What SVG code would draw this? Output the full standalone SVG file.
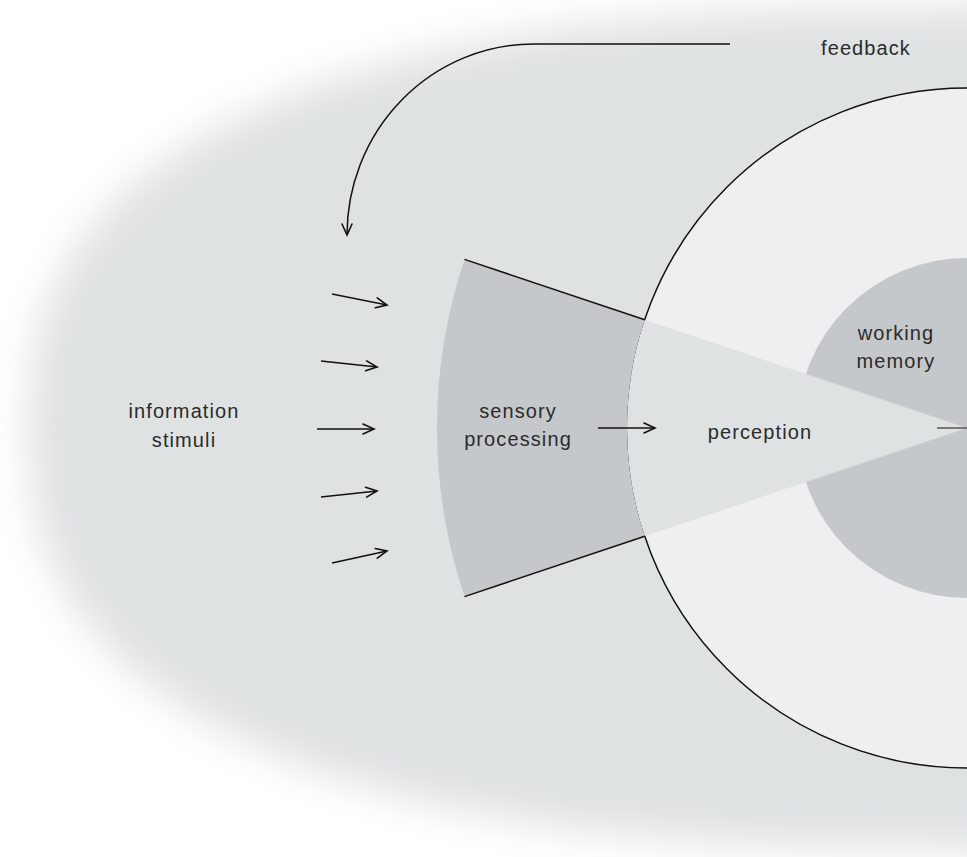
<svg xmlns="http://www.w3.org/2000/svg" width="967" height="857" viewBox="0 0 967 857">
  <defs>
    <filter id="soft" filterUnits="userSpaceOnUse" x="-200" y="-200" width="1400" height="1300">
      <feGaussianBlur stdDeviation="20"/>
    </filter>
    <marker id="arr" viewBox="-13 -7 15 14" markerWidth="15" markerHeight="14" refX="0" refY="0" markerUnits="userSpaceOnUse" orient="auto">
      <path d="M-11,-5 L0,0 L-11,5" fill="none" stroke="#111" stroke-width="1.6" stroke-linecap="round" stroke-linejoin="miter"/>
    </marker>
    <style>
      .lbl { font-family: "Liberation Sans", Arial, sans-serif; font-size: 20px; letter-spacing: 1.1px; fill: #2b2b2b; text-anchor: middle; }
      .edge { fill: none; stroke: #111; stroke-width: 1.5; }
      .conn { fill: none; stroke: #111; stroke-width: 1.5; marker-end: url(#arr); }
    </style>
  </defs>

  <rect width="967" height="857" fill="#ffffff"/>

  <g id="environment">
    <path d="M1200,6 L967,6 L735.4,11.5 L568.5,27 L427.2,52.5 L306.9,87.6 L207.5,132.3 L129.2,186.2 L72.7,249.6 L38.5,324.3 L27,428 L38.5,531.7 L72.7,606.4 L129.2,669.8 L207.5,723.7 L306.9,768.4 L427.2,803.5 L568.5,829 L735.4,844.5 L967,850 L1200,850 Z" fill="#dfe2e3" filter="url(#soft)"/>
  </g>

  <g id="cognition">
    <circle cx="967" cy="428" r="340" fill="#eeeff1" stroke="#111" stroke-width="1.5"/>
  </g>

  <g id="working-memory">
    <circle cx="967" cy="428" r="170" fill="#c5c8ca"/>
  </g>

  <g id="perception">
    <path d="M967,428 L644.7,319.8 A340,340 0 0 0 644.7,536.2 Z" fill="#dfe2e3"/>
    <text class="lbl" x="760" y="439">perception</text>
  </g>

  <g id="sensory-processing">
    <path d="M464.5,259.4 L644.7,319.8 A340,340 0 0 0 644.7,536.2 L464.5,596.6 A530,530 0 0 1 464.5,259.4 Z" fill="#c5c8ca"/>
    <path class="edge" d="M464.5,259.4 L644.7,319.8 M464.5,596.6 L644.7,536.2"/>
    <text class="lbl" x="518" y="418">sensory</text>
    <text class="lbl" x="518" y="446">processing</text>
  </g>

  <g id="working-memory-label">
    <text class="lbl" x="896" y="340">working</text>
    <text class="lbl" x="896" y="368">memory</text>
  </g>

  <g id="information-stimuli">
    <text class="lbl" x="184" y="418">information</text>
    <text class="lbl" x="184" y="447">stimuli</text>
  </g>

  <g id="feedback">
    <text class="lbl" x="866" y="55">feedback</text>
  </g>

  <g id="connectors">
    <path class="conn" d="M332,294 L387,305"/>
    <path class="conn" d="M321,361 L377,367"/>
    <path class="conn" d="M317,429 L374,429"/>
    <path class="conn" d="M321,497 L377,491"/>
    <path class="conn" d="M332,563 L387,551"/>
    <path class="conn" d="M598,428 L655,428"/>
    <path class="conn" d="M730,44 L534,44 A187,191 0 0 0 347,235"/>
    <path d="M937,428 L967,428" fill="none" stroke="#555" stroke-width="1.5"/>
  </g>
</svg>
